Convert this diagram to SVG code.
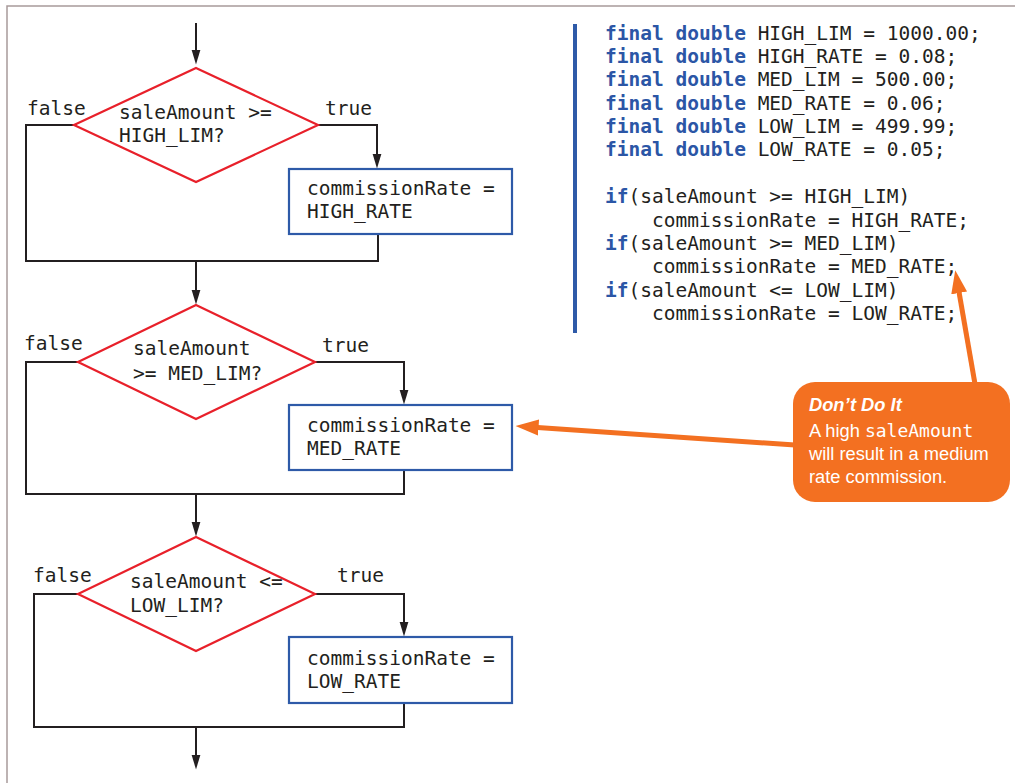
<svg xmlns="http://www.w3.org/2000/svg" width="1015" height="783" viewBox="0 0 1015 783">
<style>
.mono{font-family:"DejaVu Sans Mono",monospace;font-size:19.5px;fill:#231f20}
.kw{font-weight:bold;fill:#2b56a6}
.line{fill:none;stroke:#231f20;stroke-width:2}
.dia{fill:#fff;stroke:#e8202a;stroke-width:2.2}
.box{fill:#fff;stroke:#2e5aa8;stroke-width:2.2}
.oarr{fill:none;stroke:#f37021;stroke-width:5}
.call{font-family:"Liberation Sans",Arial,sans-serif;font-size:18.3px;fill:#fff}
</style>
<defs>
<marker id="ah" markerUnits="userSpaceOnUse" viewBox="0 -5 15 10" refX="0.5" refY="0" markerWidth="15" markerHeight="10" orient="auto">
<path d="M0,-4.5 L15,0 L0,4.5 z" fill="#231f20"/>
</marker>
<marker id="oah" markerUnits="userSpaceOnUse" viewBox="0 -9 23 18" refX="1" refY="0" markerWidth="23" markerHeight="18" orient="auto">
<path d="M0,-8 L23,0 L0,8 z" fill="#f37021"/>
</marker>
</defs>
<rect width="1015" height="783" fill="#fff"/>
<g id="frame">
<path d="M7,783 V6 H1015" fill="none" stroke="#a89a9a" stroke-width="1.5"/>
</g>
<g id="connectors">
<path class="line" d="M196,23 V50" marker-end="url(#ah)"/>
<path class="line" d="M318,125 H377 V154" marker-end="url(#ah)"/>
<path class="line" d="M74,125 H26 V261 H378 V234"/>
<path class="line" d="M196,261 V290" marker-end="url(#ah)"/>
<path class="line" d="M315,362 H404 V390" marker-end="url(#ah)"/>
<path class="line" d="M78,362 H26 V494 H404 V470"/>
<path class="line" d="M196,494 V522" marker-end="url(#ah)"/>
<path class="line" d="M315,594 H404 V622" marker-end="url(#ah)"/>
<path class="line" d="M78,594 H34 V727 H404 V703"/>
<path class="line" d="M196,727 V755" marker-end="url(#ah)"/>
<path class="oarr" d="M795,445 L537.5,427.5" marker-end="url(#oah)"/>
<path class="oarr" d="M975,384 L959,292" marker-end="url(#oah)"/>
</g>
<g id="labels" class="mono">
<text x="27" y="115">false</text>
<text x="325" y="115">true</text>
<text x="24" y="350">false</text>
<text x="322" y="352">true</text>
<text x="33" y="582">false</text>
<text x="337" y="582">true</text>
</g>
<g id="decision1">
<polygon class="dia" points="196,68 318,125 196,182 74,125"/>
<text class="mono" x="119" y="119">saleAmount &gt;=</text>
<text class="mono" x="119" y="142">HIGH_LIM?</text>
</g>
<g id="process1">
<rect class="box" x="289" y="169" width="223" height="65"/>
<text class="mono" x="307" y="195">commissionRate =</text>
<text class="mono" x="307" y="218">HIGH_RATE</text>
</g>
<g id="decision2">
<polygon class="dia" points="196,305 315,362 196,419 78,362"/>
<text class="mono" x="133" y="355">saleAmount</text>
<text class="mono" x="133" y="380">&gt;= MED_LIM?</text>
</g>
<g id="process2">
<rect class="box" x="289" y="405" width="223" height="65"/>
<text class="mono" x="307" y="432">commissionRate =</text>
<text class="mono" x="307" y="455">MED_RATE</text>
</g>
<g id="decision3">
<polygon class="dia" points="196,537 315,594 196,651 78,594"/>
<text class="mono" x="130" y="588">saleAmount &lt;=</text>
<text class="mono" x="130" y="612">LOW_LIM?</text>
</g>
<g id="process3">
<rect class="box" x="289" y="637" width="223" height="66"/>
<text class="mono" x="307" y="665">commissionRate =</text>
<text class="mono" x="307" y="688">LOW_RATE</text>
</g>
<g id="code">
<rect x="573" y="24" width="4" height="309" fill="#2e5aa8"/>
<text class="mono" x="605" y="40"><tspan class="kw">final double</tspan> HIGH_LIM = 1000.00;</text>
<text class="mono" x="605" y="63"><tspan class="kw">final double</tspan> HIGH_RATE = 0.08;</text>
<text class="mono" x="605" y="86"><tspan class="kw">final double</tspan> MED_LIM = 500.00;</text>
<text class="mono" x="605" y="110"><tspan class="kw">final double</tspan> MED_RATE = 0.06;</text>
<text class="mono" x="605" y="133"><tspan class="kw">final double</tspan> LOW_LIM = 499.99;</text>
<text class="mono" x="605" y="156"><tspan class="kw">final double</tspan> LOW_RATE = 0.05;</text>
<text class="mono" x="605" y="203"><tspan class="kw">if</tspan>(saleAmount &gt;= HIGH_LIM)</text>
<text class="mono" x="652" y="227">commissionRate = HIGH_RATE;</text>
<text class="mono" x="605" y="250"><tspan class="kw">if</tspan>(saleAmount &gt;= MED_LIM)</text>
<text class="mono" x="652" y="273">commissionRate = MED_RATE;</text>
<text class="mono" x="605" y="297"><tspan class="kw">if</tspan>(saleAmount &lt;= LOW_LIM)</text>
<text class="mono" x="652" y="320">commissionRate = LOW_RATE;</text>
</g>
<g id="callout">
<rect x="793" y="382" width="217" height="120" rx="22" fill="#f37021"/>
<text class="call" x="809" y="411" font-weight="bold" font-style="italic">Don’t Do It</text>
<text class="call" x="809" y="437">A high <tspan font-family="DejaVu Sans Mono, monospace" font-size="18px">saleAmount</tspan></text>
<text class="call" x="809" y="460">will result in a medium</text>
<text class="call" x="809" y="483">rate commission.</text>
</g>
</svg>
